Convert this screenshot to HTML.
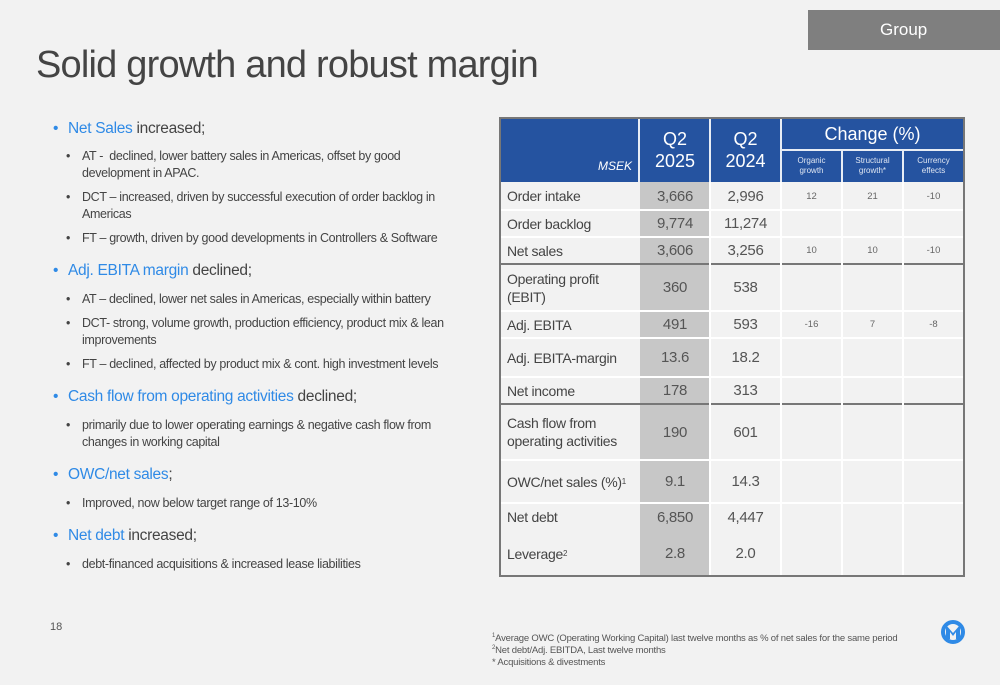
<!DOCTYPE html>
<html><head><meta charset="utf-8">
<style>
*{margin:0;padding:0;box-sizing:border-box}
body{width:1000px;height:685px;background:#f2f2f2;font-family:"Liberation Sans",sans-serif;color:#444;position:relative;overflow:hidden}
.abs{position:absolute}
.tag{left:808px;top:10px;width:192px;height:40px;background:#7f7f7f;color:#fff;font-size:17px;line-height:40px}
.tag span{position:absolute;left:72px}
h1{position:absolute;left:36px;top:44px;font-weight:normal;font-size:38px;color:#444;letter-spacing:-0.8px}
.b1{position:absolute;left:53px;font-size:15.5px;color:#444;letter-spacing:-0.3px;white-space:nowrap}
.b1 .hl{color:#2f8ae6}
.b1:before{content:"•";position:absolute;left:0;color:#2f8ae6}
.b1 span.t{margin-left:15px}
.b2{position:absolute;left:66px;width:400px;font-size:12.5px;line-height:17px;color:#444;padding-left:16px;letter-spacing:-0.35px}
.b2:before{content:"•";position:absolute;left:0}
.cell{position:absolute;display:flex;align-items:center;justify-content:center;text-align:center}
.lbl{justify-content:flex-start;padding-left:7px;text-align:left;font-size:14px;line-height:18px;color:#444;letter-spacing:-0.3px}
.num{font-size:15px;color:#555;letter-spacing:-0.3px}
.sm{font-size:9.5px;color:#666}
.fn{position:absolute;left:492px;font-size:9.5px;color:#555;letter-spacing:-0.2px;white-space:nowrap}
</style></head><body>
<div class="abs tag"><span>Group</span></div>
<h1>Solid growth and robust margin</h1>

<div class="b1" style="top:120px"><span class="t"><span class="hl">Net Sales</span> increased;</span></div>
<div class="b2" style="top:148px">AT -&nbsp; declined, lower battery sales in Americas, offset by good development in APAC.</div>
<div class="b2" style="top:189px">DCT – increased, driven by successful execution of order backlog in Americas</div>
<div class="b2" style="top:230px">FT – growth, driven by good developments in Controllers &amp; Software</div>
<div class="b1" style="top:262px"><span class="t"><span class="hl">Adj. EBITA margin</span> declined;</span></div>
<div class="b2" style="top:291px">AT – declined, lower net sales in Americas, especially within battery</div>
<div class="b2" style="top:315px">DCT- strong, volume growth, production efficiency, product mix &amp; lean improvements</div>
<div class="b2" style="top:356px">FT – declined, affected by product mix &amp; cont. high investment levels</div>
<div class="b1" style="top:388px"><span class="t"><span class="hl">Cash flow from operating activities</span> declined;</span></div>
<div class="b2" style="top:417px">primarily due to lower operating earnings &amp; negative cash flow from changes in working capital</div>
<div class="b1" style="top:466px"><span class="t"><span class="hl">OWC/net sales</span>;</span></div>
<div class="b2" style="top:495px">Improved, now below target range of 13-10%</div>
<div class="b1" style="top:527px"><span class="t"><span class="hl">Net debt</span> increased;</span></div>
<div class="b2" style="top:556px">debt-financed acquisitions &amp; increased lease liabilities</div>

<div class="abs" style="left:50px;top:621px;font-size:11px;color:#555">18</div>

<div id="tbl" class="abs" style="left:0;top:0"></div>

<div class="fn" style="top:633px"><sup style="font-size:6px">1</sup>Average OWC (Operating Working Capital) last twelve months as % of net sales for the same period</div>
<div class="fn" style="top:645px"><sup style="font-size:6px">2</sup>Net debt/Adj. EBITDA, Last twelve months</div>
<div class="fn" style="top:657px">* Acquisitions &amp; divestments</div>

<svg class="abs" style="left:941px;top:619px" width="24" height="26" viewBox="0 0 24 26">
<circle cx="12" cy="13" r="10" fill="none" stroke="#2f8ae6" stroke-width="4"/>
<path d="M5 6 L12 14 L19 6 L19 20 L15 20 L15 13 L12 17 L9 13 L9 20 L5 20 Z" fill="#2f8ae6"/>
</svg>

<script>
const labels=["Order intake","Order backlog","Net sales","Operating profit<br>(EBIT)","Adj. EBITA","Adj. EBITA-margin","Net income","Cash flow from<br>operating activities","OWC/net sales (%)<sup style='font-size:8px'>1</sup>","Net debt","Leverage<sup style='font-size:8px'>2</sup>"];
const q2025=["3,666","9,774","3,606","360","491","13.6","178","190","9.1","6,850","2.8"];
const q2024=["2,996","11,274","3,256","538","593","18.2","313","601","14.3","4,447","2.0"];
const organic=["12","","10","","-16","","","","","",""];
const structural=["21","","10","","7","","","","","",""];
const currency=["-10","","-10","","-8","","","","","",""];
const rowEdges=[182,210,237,264,311,338,377,404,460,503,531,576];
const colEdges=[500,640,710,781,842,903,964];
const T=document.getElementById('tbl');
function add(x,y,w,h,cls,html,bg,name){
  const d=document.createElement('div');
  d.className='cell '+cls;
  d.style.cssText=`left:${x}px;top:${y}px;width:${w}px;height:${h}px;`+(bg?`background:${bg};`:'');
  d.innerHTML=html;
  
  
  T.appendChild(d);return d;
}
const B='#2553a0';
add(500,118,464,64,'','',B,'table-header');
let h=add(500,150,138,32,'','MSEK',null,'header-msek');h.style.cssText+='color:#fff;font-style:italic;font-size:12px;justify-content:flex-end;padding-right:6px;';
h=add(640,118,70,64,'','Q2<br>2025',null,'header-q2-2025');h.style.cssText+='color:#fff;font-size:18px;line-height:22px;';
h=add(710,118,71,64,'','Q2<br>2024',null,'header-q2-2024');h.style.cssText+='color:#fff;font-size:18px;line-height:22px;';
h=add(781,118,183,32,'','Change (%)',null,'header-change');h.style.cssText+='color:#fff;font-size:18px;';
const subs=["Organic<br>growth","Structural<br>growth*","Currency<br>effects"];
subs.forEach((s,i)=>{h=add(colEdges[3+i],150,61,32,'',s,null,'header-sub-'+i);h.style.cssText+='color:#dfe6f2;font-size:8px;line-height:10px;';});
[[638,118,2,64],[709,118,2,64],[780,118,2,64],[781,149,183,2],[841,150,2,32],[902,150,2,32]].forEach((r,i)=>{add(r[0],r[1],r[2],r[3],'','','#e8edf5','header-divider-'+i);});
for(let i=0;i<labels.length;i++){
  const y=rowEdges[i],hh=rowEdges[i+1]-y;
  add(500,y,140,hh,'lbl',labels[i],null,'row-label-'+i);
  add(640,y,70,hh,'num',q2025[i],'#c7c7c7','q2-2025-value-'+i);
  add(710,y,71,hh,'num',q2024[i],null,'q2-2024-value-'+i);
  add(781,y,61,hh,'sm',organic[i],null,'organic-value-'+i);
  add(842,y,61,hh,'sm',structural[i],null,'structural-value-'+i);
  add(903,y,61,hh,'sm',currency[i],null,'currency-value-'+i);
  if(i>0 && i!==10){
    const thick=(i===3||i===7);
    add(500,y-1,464,2,'','',thick?'#777':'#ffffff','row-divider-'+i);
  }
}
[709,780,841,902].forEach((x,i)=>add(x,182,2,394,'','','#ffffff','col-divider-'+i));
const o=add(499,117,466,460,'','',null,'table-border');o.style.border='2px solid #777';
</script>
</body></html>
